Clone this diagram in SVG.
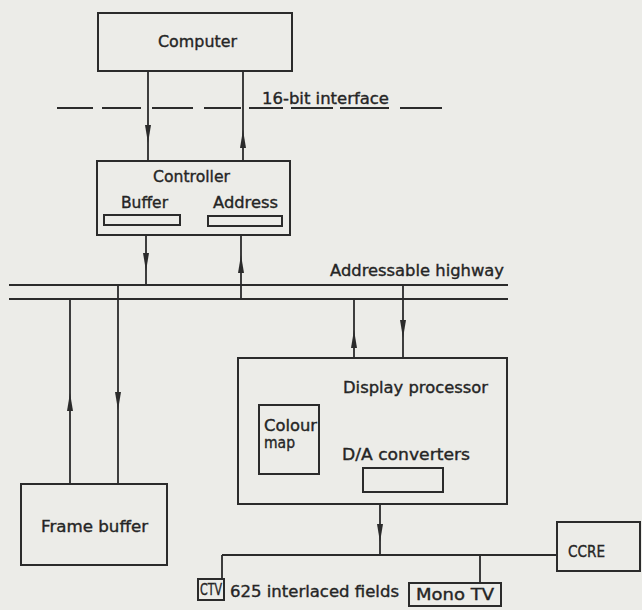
<svg xmlns="http://www.w3.org/2000/svg" width="642" height="610" viewBox="0 0 642 610">
<style>
.box{fill:none;stroke:#2b2b2b;stroke-width:2}
.ln{fill:none;stroke:#2b2b2b;stroke-width:1.8}
.t{font-family:"DejaVu Sans","Liberation Sans",sans-serif;fill:#252525;stroke:#252525;stroke-width:0.35;font-size:15px}
</style>
<defs>
<marker id="ah" markerUnits="userSpaceOnUse" markerWidth="20" markerHeight="8" refX="18" refY="4" orient="auto" viewBox="0 0 20 8">
<path d="M0,1 L18,4 L0,7 Z" fill="#2b2b2b"/>
</marker>
</defs>
<rect x="0" y="0" width="642" height="610" fill="#ecece8"/>
<g id="computer">
<rect class="box" x="98" y="13" width="194" height="58"/>
<text class="t" x="158" y="47" font-size="16" textLength="79" lengthAdjust="spacingAndGlyphs">Computer</text>
</g>
<g id="interface">
<path class="ln" d="M57,108H93M102,108H141M152,108H193M204,108H241M249,108H283M291,108H333M340,108H389M400,108H442"/>
<text class="t" x="262" y="104" font-size="14" textLength="127" lengthAdjust="spacingAndGlyphs">16-bit interface</text>
</g>
<g id="controller">
<rect class="box" x="97" y="161" width="193" height="74"/>
<text class="t" x="153" y="182" textLength="77" lengthAdjust="spacingAndGlyphs">Controller</text>
<text class="t" x="121" y="208" textLength="47" lengthAdjust="spacingAndGlyphs">Buffer</text>
<text class="t" x="213" y="208" textLength="65" lengthAdjust="spacingAndGlyphs">Address</text>
<rect class="box" x="104" y="215" width="76" height="10" stroke-width="1.6"/>
<rect class="box" x="208" y="216" width="74" height="10" stroke-width="1.6"/>
</g>
<g id="highway">
<path class="ln" d="M9,285H508M9,299H508"/>
<text class="t" x="330" y="276" textLength="174" lengthAdjust="spacingAndGlyphs">Addressable highway</text>
</g>
<g id="frame-buffer">
<rect class="box" x="21" y="484" width="146" height="81"/>
<text class="t" x="41" y="532" textLength="107" lengthAdjust="spacingAndGlyphs">Frame buffer</text>
</g>
<g id="display-processor">
<rect class="box" x="238" y="358" width="269" height="146"/>
<text class="t" x="343" y="393" textLength="145" lengthAdjust="spacingAndGlyphs">Display processor</text>
<rect class="box" x="259" y="405" width="60" height="69" stroke-width="1.6"/>
<text class="t" x="264" y="431" font-size="12" textLength="53" lengthAdjust="spacingAndGlyphs">Colour</text>
<text class="t" x="264" y="448" font-size="12" textLength="31" lengthAdjust="spacingAndGlyphs">map</text>
<text class="t" x="342" y="460" textLength="128" lengthAdjust="spacingAndGlyphs">D/A converters</text>
<rect class="box" x="363" y="468" width="80" height="24" stroke-width="1.6"/>
</g>
<g id="ccre">
<rect class="box" x="557" y="522" width="83" height="49"/>
<text class="t" x="568" y="557" textLength="37" lengthAdjust="spacingAndGlyphs">CCRE</text>
</g>
<g id="ctv">
<rect class="box" x="198" y="579" width="26" height="21"/>
<text class="t" x="200" y="595" font-size="14" textLength="22" lengthAdjust="spacingAndGlyphs">CTV</text>
</g>
<g id="fields-label">
<text class="t" x="230" y="597" textLength="169" lengthAdjust="spacingAndGlyphs">625 interlaced fields</text>
</g>
<g id="mono-tv">
<rect class="box" x="409" y="583" width="92" height="23"/>
<text class="t" x="416" y="600" textLength="78" lengthAdjust="spacingAndGlyphs">Mono TV</text>
</g>
<g id="connectors">
<polyline class="ln" points="148,71 148,143 148,161" marker-mid="url(#ah)"/>
<polyline class="ln" points="243,161 243,130 243,71" marker-mid="url(#ah)"/>
<polyline class="ln" points="146,235 146,271 146,285" marker-mid="url(#ah)"/>
<polyline class="ln" points="241,299 241,255 241,235" marker-mid="url(#ah)"/>
<polyline class="ln" points="70,484 70,393 70,299" marker-mid="url(#ah)"/>
<polyline class="ln" points="118,285 118,410 118,484" marker-mid="url(#ah)"/>
<polyline class="ln" points="354,358 354,330 354,299" marker-mid="url(#ah)"/>
<polyline class="ln" points="403,285 403,338 403,358" marker-mid="url(#ah)"/>
<polyline class="ln" points="380,504 380,542 380,555" marker-mid="url(#ah)"/>
<path class="ln" d="M222,555H557M222,555V579M480,555V583"/>
</g>
</svg>
